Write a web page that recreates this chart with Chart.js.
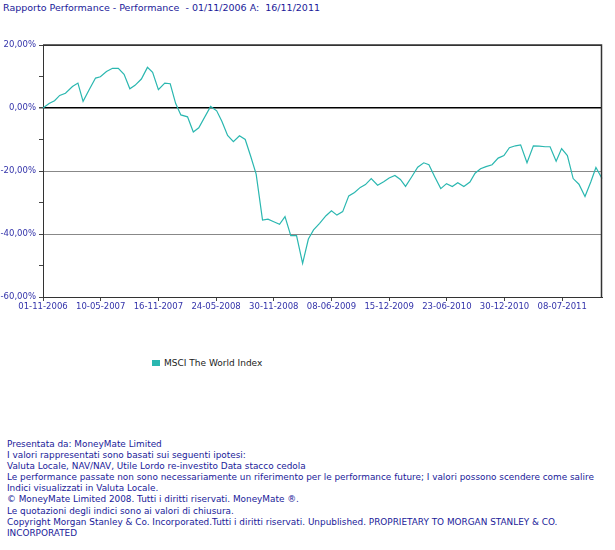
<!DOCTYPE html>
<html><head><meta charset="utf-8">
<script src="https://cdn.jsdelivr.net/npm/chart.js@4"></script>
<style>
body{margin:0;width:615px;height:550px;position:relative;font-family:"DejaVu Sans",sans-serif;color:#1a1a99;background:#fff}
#t{position:absolute;left:3px;top:2px;font-size:9.5px}
#c{position:absolute;left:0;top:0}
#lg{position:absolute;left:152px;top:358px;font-size:9px;color:#222}
#lg span{display:inline-block;width:8px;height:6px;background:#2ab7b0;margin-right:4px}
#f{position:absolute;left:7px;top:439px;font-size:8.9px;line-height:11.1px}
</style></head><body>
<div id="t">Rapporto Performance - Performance&nbsp; - 01/11/2006 A:&nbsp; 16/11/2011</div>
<canvas id="c" width="615" height="320"></canvas>
<div id="lg"><span></span>MSCI The World Index</div>
<div id="f">Presentata da: MoneyMate Limited<br>I valori rappresentati sono basati sui seguenti ipotesi:<br>Valuta Locale, NAV/NAV, Utile Lordo re-investito Data stacco cedola<br>Le performance passate non sono necessariamente un riferimento per le performance future; I valori possono scendere come salire<br>Indici visualizzati in Valuta Locale.<br>© MoneyMate Limited 2008. Tutti i diritti riservati. MoneyMate ®.<br>Le quotazioni degli indici sono ai valori di chiusura.<br>Copyright Morgan Stanley &amp; Co. Incorporated.Tutti i diritti riservati. Unpublished. PROPRIETARY TO MORGAN STANLEY &amp; CO.<br>INCORPORATED</div>
<script>
const tickDays=[0,190,380,570,760,950,1140,1330,1520,1710];
const tickLabels=["01-11-2006","10-05-2007","16-11-2007","24-05-2008","30-11-2008","08-06-2009","15-12-2009","23-06-2010","30-12-2010","08-07-2011"];
const days=[0,20,38,55,74,97,115,132,152,173,189,209,229,248,267,286,303,324,344,361,380,401,419,437,454,476,495,513,552,572,589,608,627,647,666,684,702,723,741,760,779,797,816,835,855,874,891,911,932,950,968,987,1007,1026,1045,1062,1081,1102,1122,1140,1159,1177,1194,1214,1234,1254,1271,1290,1310,1329,1348,1366,1386,1406,1423,1441,1459,1479,1499,1518,1536,1556,1573,1594,1615,1634,1654,1670,1690,1708,1727,1746,1765,1785,1804,1821,1841];
const values=[0,1.4,2.3,4.0,4.7,6.8,7.9,2.1,5.8,9.5,9.9,11.6,12.6,12.6,10.7,6.1,7.2,9.2,12.9,11.3,5.8,7.9,7.7,1.4,-2.2,-2.8,-7.6,-6.3,0.5,-0.9,-4.2,-8.7,-10.7,-8.8,-10,-15.3,-21,-35.6,-35.3,-36.1,-36.9,-34.5,-40.5,-40.5,-49.3,-41.6,-38.7,-36.6,-34.2,-32.6,-34,-32.9,-27.9,-26.8,-25.2,-24.3,-22.4,-24.5,-23.4,-22.2,-21.4,-22.7,-24.9,-21.9,-18.8,-17.4,-18,-21.8,-25.6,-24,-24.9,-23.7,-24.9,-23.5,-20.7,-19.3,-18.6,-18,-15.9,-15.1,-12.6,-12,-11.7,-17.4,-12,-12.1,-12.3,-12.3,-16.9,-12.9,-15.1,-22.4,-24.2,-28.1,-23.5,-18.9,-22.4];
const box={id:'box',afterDatasetsDraw(c){const a=c.chartArea,x=c.ctx;x.save();x.strokeStyle='#333';x.lineWidth=1.5;x.beginPath();x.moveTo(a.left,a.top);x.lineTo(a.right-0.5,a.top);x.lineTo(a.right-0.5,a.bottom);x.stroke();x.restore();}};
new Chart(document.getElementById('c'),{type:'line',
data:{datasets:[{data:days.map((d,i)=>({x:d,y:values[i]})),borderColor:'#2ab7b0',borderWidth:1.2,pointRadius:0,tension:0,clip:false}]},
options:{responsive:false,animation:false,layout:{padding:{top:45,right:13,left:0}},
plugins:{legend:{display:false},tooltip:{enabled:false}},
scales:{
x:{type:'linear',min:0,max:1841,afterFit:s=>{s.height=23},afterBuildTicks:s=>{s.ticks=tickDays.map(v=>({value:v}))},
 ticks:{autoSkip:false,maxRotation:0,color:'#3333aa',font:{size:8.5,family:'DejaVu Sans'},padding:1,callback:(v)=>tickLabels[tickDays.indexOf(v)]},
 grid:{drawOnChartArea:false,tickLength:4,tickColor:'#444'},border:{display:true,color:'#333'}},
y:{min:-60,max:20,afterFit:s=>{s.width=43},
 ticks:{stepSize:10,color:'#3333aa',font:{size:8.5,family:'DejaVu Sans'},padding:3,callback:v=>v%20===0?v.toFixed(2).replace('.',',')+'%':''},
 grid:{tickLength:4,tickColor:'#444',color:c=>{const v=c.tick.value;if(v===0)return '#000';if(v===20)return '#333';if(v%20===0&&v>-60)return '#888';return 'rgba(0,0,0,0)'},lineWidth:c=>c.tick.value===0?1.5:1},border:{display:true,color:'#333'}}
}},plugins:[box]});
</script>
</body></html>
